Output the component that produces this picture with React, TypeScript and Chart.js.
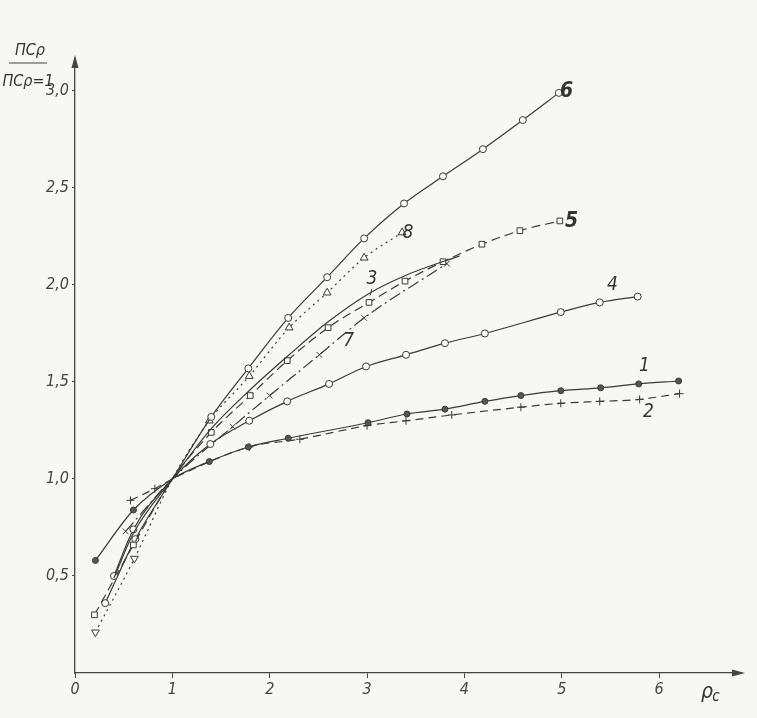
import React, { useEffect, useRef } from "react";
import { Chart, registerables } from "chart.js";

Chart.register(...registerables);

// ---- data (x = ρc, y = ПCρ / ПCρ=1) ----
const c1X = [0.21, 0.6, 1.0, 1.38, 1.78, 2.19, 3.01, 3.41, 3.8, 4.21, 4.58, 4.99, 5.4, 5.79, 6.2];
const c1Y = [0.58, 0.84, 1.0, 1.09, 1.165, 1.21, 1.29, 1.335, 1.36, 1.4, 1.43, 1.455, 1.47, 1.49, 1.505];

const c2X = [0.57, 0.82, 1.0, 1.79, 2.31, 3.0, 3.4, 3.87, 4.58, 4.99, 5.39, 5.8, 6.21];
const c2Y = [0.89, 0.95, 1.0, 1.165, 1.205, 1.275, 1.3, 1.33, 1.37, 1.39, 1.4, 1.41, 1.44];

const c3X = [0.4, 0.6, 1.0, 1.4, 1.8, 2.2, 2.6, 3.0, 3.4, 3.95];
const c3Y = [0.49, 0.72, 1.0, 1.26, 1.46, 1.64, 1.81, 1.95, 2.05, 2.15];

const c4X = [0.4, 0.6, 1.0, 1.39, 1.79, 2.18, 2.61, 2.99, 3.4, 3.8, 4.21, 4.99, 5.39, 5.78];
const c4Y = [0.5, 0.74, 1.0, 1.18, 1.3, 1.4, 1.49, 1.58, 1.64, 1.7, 1.75, 1.86, 1.91, 1.94];

const c5X = [0.2, 0.6, 1.0, 1.4, 1.8, 2.18, 2.6, 3.02, 3.39, 3.78, 4.18, 4.57, 4.98];
const c5Y = [0.3, 0.66, 1.0, 1.24, 1.43, 1.61, 1.78, 1.91, 2.02, 2.12, 2.21, 2.28, 2.33];

const c6X = [0.31, 0.62, 1.0, 1.4, 1.78, 2.19, 2.59, 2.97, 3.38, 3.78, 4.19, 4.6, 4.97];
const c6Y = [0.36, 0.69, 1.0, 1.32, 1.57, 1.83, 2.04, 2.24, 2.42, 2.56, 2.7, 2.85, 2.99];

const c7X = [0.52, 1.0, 1.62, 2.0, 2.51, 2.97, 3.82];
const c7Y = [0.73, 1.0, 1.27, 1.43, 1.64, 1.83, 2.11];

const c8X = [0.21, 0.61, 1.0, 1.38, 1.79, 2.2, 2.59, 2.97, 3.36];
const c8Y = [0.21, 0.59, 1.0, 1.3, 1.53, 1.78, 1.96, 2.14, 2.27];

const xTicks = [0, 1, 2, 3, 4, 5, 6];
const yTicks = [0.5, 1.0, 1.5, 2.0, 2.5, 3.0];

// curve number labels, anchored in data units
const curveLabels = [
  { text: "6", x: 5.05, y: 2.995, bold: true },
  { text: "5", x: 5.1, y: 2.325, bold: true },
  { text: "8", x: 3.42, y: 2.27, bold: false },
  { text: "3", x: 3.05, y: 2.03, bold: false },
  { text: "7", x: 2.81, y: 1.71, bold: false },
  { text: "4", x: 5.52, y: 2.0, bold: false },
  { text: "1", x: 5.85, y: 1.58, bold: false },
  { text: "2", x: 5.89, y: 1.345, bold: false },
];

const INK = "#3a3a3a";
const FONT = "'Liberation Sans Narrow', 'DejaVu Sans Condensed', sans-serif";

function series(xs: number[], ys: number[], o: any) {
  return {
    data: xs.map((x, i) => ({ x, y: ys[i] })),
    showLine: true,
    borderColor: INK,
    borderWidth: 1.2,
    borderDash: o.dash || [],
    pointStyle: o.style || "circle",
    pointRadius: (c: any) => (c.raw && c.raw.x === 1 ? 0 : o.r ?? 3.5),
    pointRotation: o.rot || 0,
    pointBackgroundColor: o.fill || "#fafaf8",
    pointBorderColor: INK,
    pointBorderWidth: 1,
    cubicInterpolationMode: "monotone",
    fill: false,
  };
}

const decor = {
  id: "decor",
  beforeDraw(chart: any) {
    const { ctx, width, height } = chart;
    ctx.save();
    ctx.fillStyle = "#f7f7f5";
    ctx.fillRect(0, 0, width, height);
    ctx.restore();
  },
  afterDraw(chart: any) {
    const { ctx, chartArea } = chart;
    const xs = chart.scales.x;
    const ys = chart.scales.y;
    const { left, top, right, bottom } = chartArea;
    ctx.save();
    ctx.strokeStyle = "#444";
    ctx.fillStyle = "#444";
    ctx.lineWidth = 1.3;
    // y arrow
    ctx.beginPath();
    ctx.moveTo(left, top);
    ctx.lineTo(left, top - 2);
    ctx.stroke();
    ctx.beginPath();
    ctx.moveTo(left, top - 8);
    ctx.lineTo(left - 3.5, top + 5);
    ctx.lineTo(left + 3.5, top + 5);
    ctx.closePath();
    ctx.fill();
    // x arrow
    ctx.beginPath();
    ctx.moveTo(right + 8, bottom);
    ctx.lineTo(right - 5, bottom - 3.5);
    ctx.lineTo(right - 5, bottom + 3.5);
    ctx.closePath();
    ctx.fill();

    // curve labels
    ctx.fillStyle = "#333";
    ctx.textAlign = "center";
    ctx.textBaseline = "middle";
    for (const l of curveLabels) {
      ctx.font = `italic ${l.bold ? "bold 21px" : "19px"} ${FONT}`;
      ctx.fillText(l.text, xs.getPixelForValue(l.x), ys.getPixelForValue(l.y));
    }
    // leader from "3"
    ctx.lineWidth = 1;
    ctx.beginPath();
    ctx.moveTo(xs.getPixelForValue(3.05), ys.getPixelForValue(1.98));
    ctx.lineTo(xs.getPixelForValue(3.03), ys.getPixelForValue(1.945));
    ctx.stroke();

    // x axis title
    ctx.font = `italic 21px ${FONT}`;
    ctx.fillText("ρ", right - 30, bottom + 20);
    ctx.font = `italic 15px ${FONT}`;
    ctx.fillText("c", right - 21, bottom + 24);

    // y axis title as fraction
    const cx = 28;
    ctx.font = `italic 16px ${FONT}`;
    ctx.fillText("ПCρ", cx + 2, top - 12);
    ctx.lineWidth = 1.2;
    ctx.beginPath();
    ctx.moveTo(cx - 19, top);
    ctx.lineTo(cx + 19, top);
    ctx.stroke();
    ctx.fillText("ПCρ=1", cx, top + 19);
    ctx.restore();
  },
};

export default function App() {
  const ref = useRef<HTMLCanvasElement | null>(null);
  useEffect(() => {
    if (!ref.current) return;
    const tickFont = { family: FONT, size: 16, style: "italic" as const };
    const chart = new Chart(ref.current, {
      type: "scatter",
      data: {
        datasets: [
          series(c1X, c1Y, { fill: "#555", r: 3 }),
          series(c2X, c2Y, { dash: [8, 5], style: "cross", r: 4 }),
          series(c3X, c3Y, { r: 0 }),
          series(c4X, c4Y, {}),
          series(c5X, c5Y, { dash: [9, 5], style: "rect", r: 4 }),
          series(c6X, c6Y, {}),
          series(c7X, c7Y, { dash: [12, 4, 2, 4], style: "crossRot", r: 4 }),
          series(c8X, c8Y, {
            dash: [2, 4],
            style: "triangle",
            r: 4.5,
            rot: (c: any) => (c.raw && c.raw.x < 1 ? 180 : 0),
          }),
        ] as any,
      },
      options: {
        animation: false,
        responsive: false,
        devicePixelRatio: 1,
        layout: { padding: { top: 63, right: 20, left: 0, bottom: 0 } },
        plugins: { legend: { display: false }, tooltip: { enabled: false } },
        scales: {
          x: {
            type: "linear",
            min: 0,
            max: 6.8,
            afterFit: (s: any) => {
              s.height = 45;
            },
            afterBuildTicks: (s: any) => {
              s.ticks = xTicks.map((v) => ({ value: v }));
            },
            grid: { drawOnChartArea: false, drawTicks: true, tickLength: 5, color: "#444" },
            border: { display: true, color: "#444", width: 1.3 },
            ticks: { font: tickFont, color: "#444", padding: 2, callback: (v: any) => String(v) },
          },
          y: {
            type: "linear",
            min: 0,
            max: 3.144,
            afterFit: (s: any) => {
              s.width = 75;
            },
            afterBuildTicks: (s: any) => {
              s.ticks = yTicks.map((v) => ({ value: v }));
            },
            grid: { drawOnChartArea: false, drawTicks: true, tickLength: 3, color: "#444" },
            border: { display: true, color: "#444", width: 1.3 },
            ticks: {
              font: tickFont,
              color: "#444",
              padding: 3,
              callback: (v: any) => Number(v).toFixed(1).replace(".", ","),
            },
          },
        },
      },
      plugins: [decor],
    });
    return () => chart.destroy();
  }, []);
  return (
    <div style={{ position: "absolute", left: 0, top: 0, width: 757, height: 718 }}>
      <canvas ref={ref} width={757} height={718} style={{ display: "block" }} />
    </div>
  );
}
